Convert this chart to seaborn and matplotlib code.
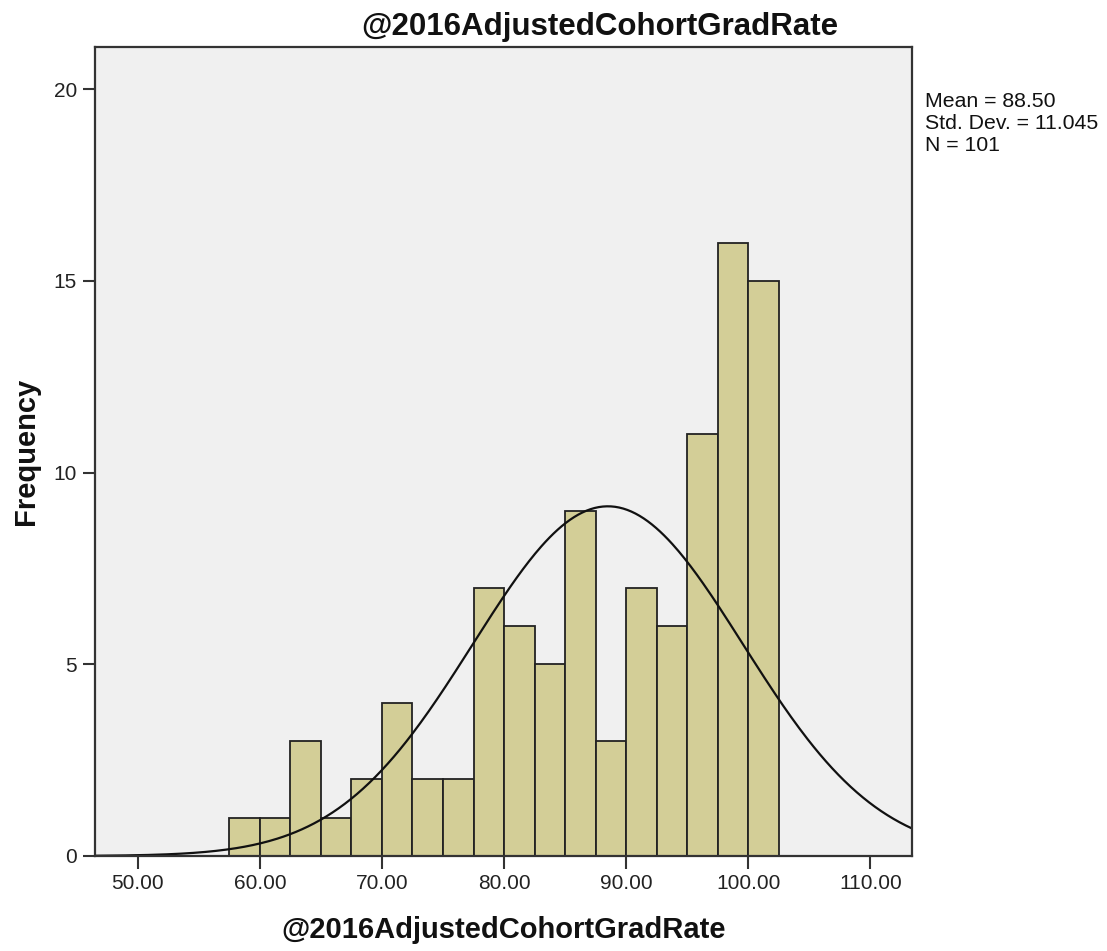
import numpy as np
import pandas as pd
import matplotlib
matplotlib.use("Agg")
import matplotlib.pyplot as plt
import seaborn as sns

# Histogram bins (width 2.5) and their frequencies
bin_centers = [58.75, 61.25, 63.75, 66.25, 68.75, 71.25, 73.75, 76.25, 78.75,
               81.25, 83.75, 86.25, 88.75, 91.25, 93.75, 96.25, 98.75, 101.25]
frequencies = [1, 1, 3, 1, 2, 4, 2, 2, 7, 6, 5, 9, 3, 7, 6, 11, 16, 15]
bin_width = 2.5

# Summary statistics shown beside the chart
mean_value = 88.50
std_dev = 11.045
n_cases = 101

x_ticks = [50, 60, 70, 80, 90, 100, 110]
y_ticks = [0, 5, 10, 15, 20]
var_name = "@2016AdjustedCohortGradRate"

sns.set_style("white")
plt.rcParams["font.family"] = ["Liberation Sans", "DejaVu Sans"]
plt.rcParams["text.color"] = "#111111"

df = pd.DataFrame({"value": bin_centers, "count": frequencies})
lo = bin_centers[0] - bin_width / 2
hi = bin_centers[-1] + bin_width / 2

fig = plt.figure(figsize=(11.07, 9.51), dpi=100)
ax = fig.add_axes([0.0858, 0.0999, 0.8238 - 0.0858, 0.9506 - 0.0999])
ax.set_facecolor("#F0F0F0")

sns.histplot(data=df, x="value", weights="count", binwidth=bin_width, binrange=(lo, hi),
             ax=ax, color="#D3CE97", alpha=1.0, edgecolor="#222222", linewidth=1.3)

xmin, xmax = 46.5, 113.4
ax.set_xlim(xmin, xmax)
ax.set_ylim(0, 21.1)

# Fitted normal curve scaled to the histogram counts
xs = np.linspace(xmin, xmax, 400)
pdf = np.exp(-0.5 * ((xs - mean_value) / std_dev) ** 2) / (std_dev * np.sqrt(2 * np.pi))
ax.plot(xs, pdf * n_cases * bin_width, color="#111111", linewidth=1.6)

ax.set_xticks(x_ticks)
ax.set_xticklabels([f"{t:.2f}" for t in x_ticks], fontsize=15, color="#222222")
ax.set_yticks(y_ticks)
ax.set_yticklabels([str(t) for t in y_ticks], fontsize=15, color="#222222")
ax.tick_params(axis="both", direction="out", length=9, width=1.5, color="#333333", pad=4,
               bottom=True, left=True)

for side in ["left", "right", "top", "bottom"]:
    ax.spines[side].set_visible(True)
    ax.spines[side].set_color("#333333")
    ax.spines[side].set_linewidth(1.6)

ax.set_xlabel(var_name, fontsize=21, fontweight="bold", color="#111111")
ax.set_ylabel("Frequency", fontsize=21, fontweight="bold", color="#111111")
ax.xaxis.set_label_coords(0.5, -(930 - 856) / 809, transform=ax.transAxes)
ax.xaxis.label.set_va("center")
ax.yaxis.set_label_coords(-(95 - 26) / 817, 0.5, transform=ax.transAxes)
ax.yaxis.label.set_va("center")

fig.text(600 / 1107, 1 - 27 / 951, var_name, fontsize=22.5, fontweight="bold",
         ha="center", va="center", color="#111111")

stats_text = f"Mean = {mean_value:.2f}\nStd. Dev. = {std_dev:.3f}\nN = {n_cases}"
fig.text(925 / 1107, 1 - 92 / 951, stats_text, fontsize=15.3, ha="left", va="top",
         linespacing=1.2, color="#111111")

fig.savefig("out.png", dpi=100, facecolor="white")
